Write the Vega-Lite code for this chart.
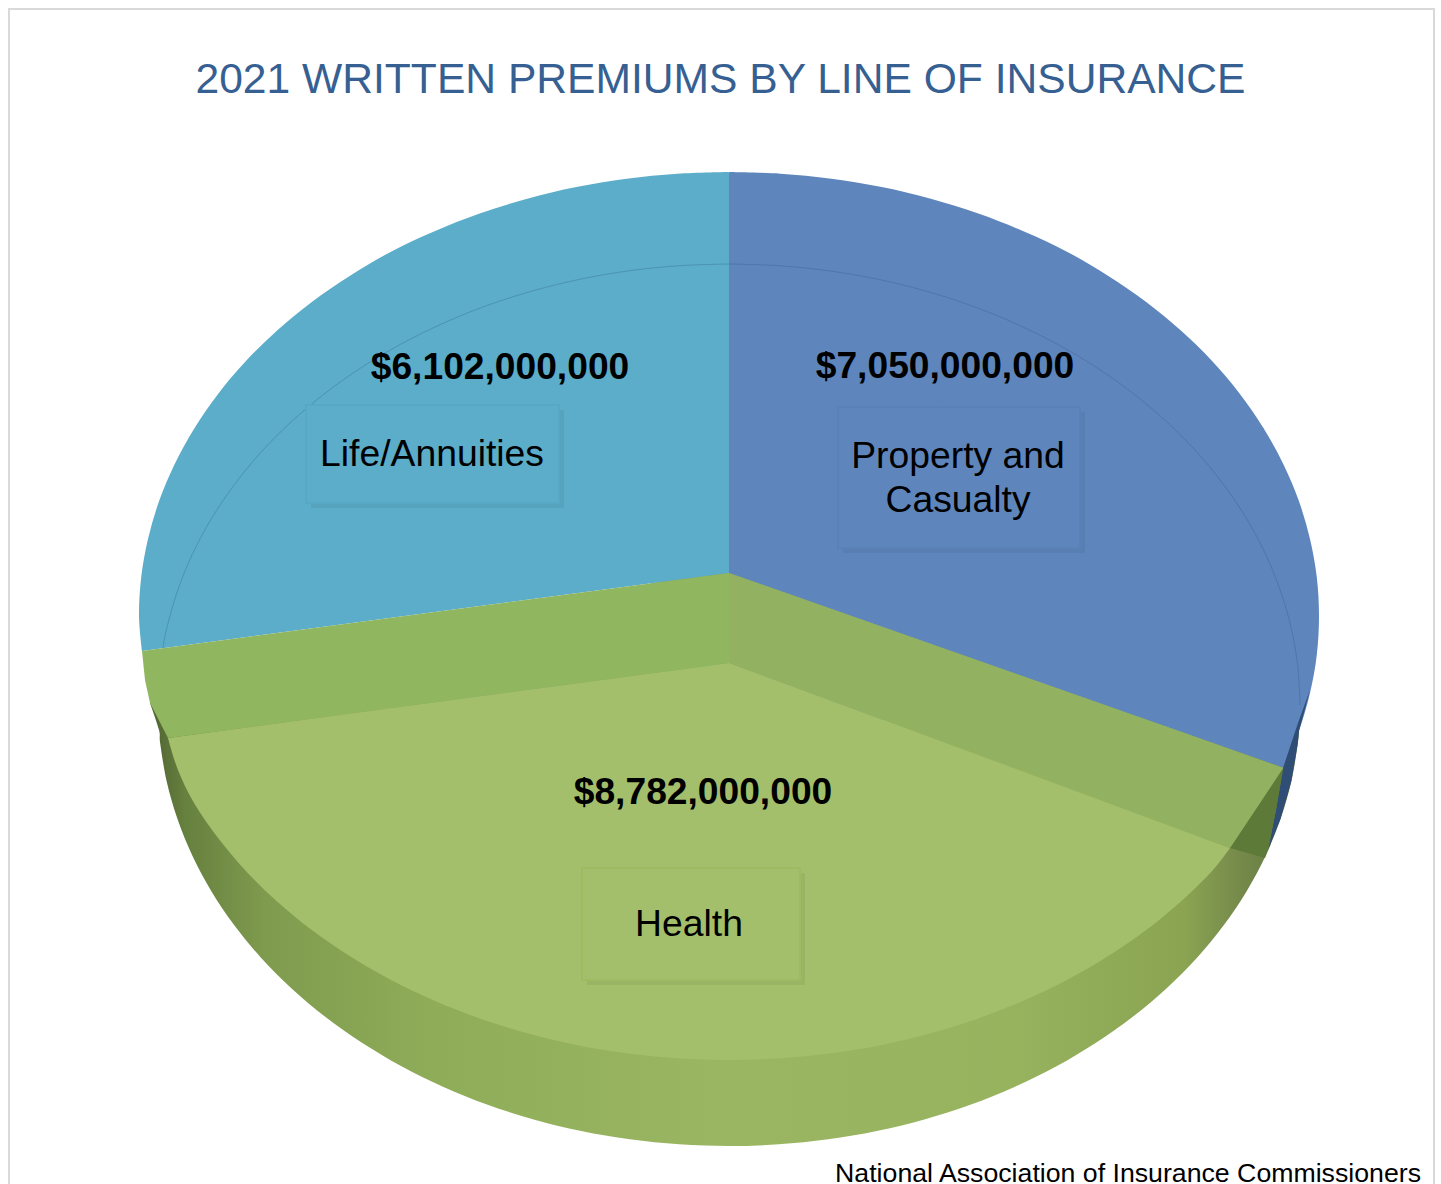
{
  "$schema": "https://vega.github.io/schema/vega-lite/v6.json",
  "width": 1441,
  "height": 1184,
  "padding": 0,
  "autosize": {"type": "none"},
  "background": "white",
  "config": {"view": {"stroke": null}},
  "title": {
    "text": "2021 WRITTEN PREMIUMS BY LINE OF INSURANCE",
    "anchor": "middle",
    "frame": "group",
    "offset": 0,
    "dy": 136,
    "baseline": "alphabetic",
    "font": "Liberation Sans",
    "fontSize": 42.6,
    "fontWeight": "normal",
    "color": "#376092"
  },
  "datasets": {
    "lines": [
      {"line": "Property and\nCasualty", "premium": 7050000000, "valueX": 945, "valueY": 378, "nameX": 958, "nameY": 468, "x0": 838, "x1": 1080, "y0": 407, "y1": 548},
      {"line": "Life/Annuities", "premium": 6102000000, "valueX": 500, "valueY": 379, "nameX": 432, "nameY": 466, "x0": 306, "x1": 559, "y0": 405, "y1": 503},
      {"line": "Health", "premium": 8782000000, "valueX": 703, "valueY": 804, "nameX": 689, "nameY": 936, "x0": 582, "x1": 800, "y0": 868, "y1": 980}
    ],
    "rim": [
      {"x": 150, "y": 703}, {"x": 159, "y": 730}, {"x": 160.2, "y": 743.4}, {"x": 166.7, "y": 781.6}, {"x": 177.5, "y": 819.1}, {"x": 192.4, "y": 855.8}, {"x": 211.5, "y": 891.4}, {"x": 234.5, "y": 925.5}, {"x": 261.2, "y": 958}, {"x": 291.6, "y": 988.5}, {"x": 325.2, "y": 1016.8}, {"x": 362, "y": 1042.8}, {"x": 401.5, "y": 1066.3}, {"x": 443.5, "y": 1086.9}, {"x": 487.7, "y": 1104.7}, {"x": 533.7, "y": 1119.4}, {"x": 581.2, "y": 1131}, {"x": 629.9, "y": 1139.3}, {"x": 679.2, "y": 1144.3}, {"x": 729, "y": 1146},
      {"x": 778.8, "y": 1144.3}, {"x": 828.1, "y": 1139.3}, {"x": 876.8, "y": 1131}, {"x": 924.3, "y": 1119.4}, {"x": 970.3, "y": 1104.7}, {"x": 1014.5, "y": 1086.9}, {"x": 1056.5, "y": 1066.3}, {"x": 1096, "y": 1042.8}, {"x": 1132.8, "y": 1016.8}, {"x": 1166.4, "y": 988.5}, {"x": 1196.8, "y": 958}, {"x": 1223.5, "y": 925.5}, {"x": 1246.5, "y": 891.4}, {"x": 1265.6, "y": 855.8}, {"x": 1280.5, "y": 819.1}, {"x": 1291.3, "y": 781.6}, {"x": 1297.8, "y": 743.4}, {"x": 1299, "y": 730}
    ],
    "wallBacking": [
      {"x": 150, "y": 703}, {"x": 729, "y": 565}, {"x": 1299, "y": 730}
    ],
    "propertyCore": [
      {"x": 729, "y": 573}, {"x": 729, "y": 172}, {"x": 1263.7, "y": 428.4}, {"x": 1283.4, "y": 767.8}
    ],
    "propertyArc": [
      {"x": 729, "y": 172}, {"x": 780.4, "y": 173.7}, {"x": 831.4, "y": 178.7}, {"x": 881.7, "y": 187.1}, {"x": 930.8, "y": 198.8}, {"x": 978.3, "y": 213.6}, {"x": 1024, "y": 231.5}, {"x": 1067.4, "y": 251.9}, {"x": 1108.3, "y": 275.9}, {"x": 1146.2, "y": 302}, {"x": 1180.9, "y": 330.6}, {"x": 1212.3, "y": 361.3}, {"x": 1239.9, "y": 394}, {"x": 1263.7, "y": 428.4}, {"x": 1283.4, "y": 464.2}, {"x": 1298.9, "y": 501.1}, {"x": 1310, "y": 538.9}, {"x": 1316.8, "y": 577.3}, {"x": 1319, "y": 616}, {"x": 1316.8, "y": 654.7}, {"x": 1310, "y": 693.1}, {"x": 1298.9, "y": 730.9}, {"x": 1283.4, "y": 767.8}
    ],
    "lifeCore": [
      {"x": 729, "y": 573}, {"x": 142, "y": 651}, {"x": 218.1, "y": 394}, {"x": 729, "y": 172}
    ],
    "lifeArc": [
      {"x": 142, "y": 651}, {"x": 139, "y": 616}, {"x": 141.2, "y": 577.3}, {"x": 148, "y": 538.9}, {"x": 159.1, "y": 501.1}, {"x": 174.6, "y": 464.2}, {"x": 194.3, "y": 428.4}, {"x": 218.1, "y": 394}, {"x": 245.7, "y": 361.3}, {"x": 277.1, "y": 330.6}, {"x": 311.8, "y": 302}, {"x": 349.7, "y": 275.9}, {"x": 390.6, "y": 251.9}, {"x": 434, "y": 231.5}, {"x": 479.7, "y": 213.6}, {"x": 527.2, "y": 198.8}, {"x": 576.3, "y": 187.1}, {"x": 626.6, "y": 178.7}, {"x": 677.6, "y": 173.7}, {"x": 729, "y": 172}
    ],
    "rimShadeNavy": [
      {"x": 1310, "y": 690}, {"x": 1299, "y": 731}, {"x": 1297.8, "y": 743.4}, {"x": 1291.3, "y": 781.6}, {"x": 1280.5, "y": 819.1}, {"x": 1268, "y": 850}, {"x": 1276, "y": 810}, {"x": 1283, "y": 768}, {"x": 1298, "y": 723}
    ],
    "rimShadeGreen": [
      {"x": 1283.4, "y": 767.8}, {"x": 1230, "y": 848}, {"x": 1265, "y": 858}, {"x": 1268, "y": 850}, {"x": 1276, "y": 810}
    ],
    "wallLeft": [
      {"x": 729, "y": 573}, {"x": 142, "y": 651}, {"x": 145, "y": 680}, {"x": 150, "y": 703}, {"x": 168, "y": 738}, {"x": 729, "y": 663}
    ],
    "wallRight": [
      {"x": 729, "y": 573}, {"x": 1283.4, "y": 767.8}, {"x": 1230, "y": 848}, {"x": 729, "y": 663}
    ],
    "healthCore": [
      {"x": 729, "y": 663}, {"x": 1230, "y": 848}, {"x": 729, "y": 1060}, {"x": 168, "y": 738}
    ],
    "healthArc": [
      {"x": 1230, "y": 848}, {"x": 1212.3, "y": 870.7}, {"x": 1180.9, "y": 901.4}, {"x": 1146.2, "y": 930}, {"x": 1108.3, "y": 956.1}, {"x": 1067.4, "y": 979.7}, {"x": 1024, "y": 1000.5}, {"x": 978.3, "y": 1018.4}, {"x": 930.8, "y": 1033.2}, {"x": 881.7, "y": 1044.9}, {"x": 831.4, "y": 1053.3}, {"x": 780.4, "y": 1058.3}, {"x": 729, "y": 1060}, {"x": 677.6, "y": 1058.3}, {"x": 626.6, "y": 1053.3}, {"x": 576.3, "y": 1044.9}, {"x": 527.2, "y": 1033.2}, {"x": 479.7, "y": 1018.4}, {"x": 434, "y": 1000.5}, {"x": 390.6, "y": 979.7}, {"x": 349.7, "y": 956.1}, {"x": 311.8, "y": 930}, {"x": 277.1, "y": 901.4}, {"x": 245.7, "y": 870.7}, {"x": 218.1, "y": 838}, {"x": 194.3, "y": 803.6}, {"x": 178, "y": 770}, {"x": 168, "y": 738}
    ],
    "baseRingLife": [
      {"x": 163, "y": 648}, {"x": 166.7, "y": 628.4}, {"x": 177.5, "y": 591}, {"x": 192.4, "y": 554.2}, {"x": 211.5, "y": 518.6}, {"x": 234.5, "y": 484.5}, {"x": 261.2, "y": 452}, {"x": 291.6, "y": 421.5}, {"x": 325.2, "y": 393.2}, {"x": 362, "y": 367.1}, {"x": 401.5, "y": 343.7}, {"x": 443.5, "y": 323.1}, {"x": 487.7, "y": 305.3}, {"x": 533.7, "y": 290.6}, {"x": 581.2, "y": 279}, {"x": 629.9, "y": 270.7}, {"x": 679.2, "y": 265.7}, {"x": 729, "y": 264}
    ],
    "baseRingProperty": [
      {"x": 729, "y": 264}, {"x": 778.8, "y": 265.7}, {"x": 828.1, "y": 270.7}, {"x": 876.8, "y": 279}, {"x": 924.3, "y": 290.6}, {"x": 970.3, "y": 305.3}, {"x": 1014.5, "y": 323.1}, {"x": 1056.5, "y": 343.7}, {"x": 1096, "y": 367.1}, {"x": 1132.8, "y": 393.2}, {"x": 1166.4, "y": 421.5}, {"x": 1196.8, "y": 452}, {"x": 1223.5, "y": 484.5}, {"x": 1246.5, "y": 518.6}, {"x": 1265.6, "y": 554.2}, {"x": 1280.5, "y": 591}, {"x": 1291.3, "y": 628.4}, {"x": 1297.8, "y": 666.6}, {"x": 1300, "y": 705}
    ],
    "frame": [
      {"x0": 9, "x1": 1434, "y0": 9, "y1": 1200}
    ],
    "source": [
      {"name": "National Association of Insurance Commissioners", "x": 1421, "y": 1182}
    ]
  },
  "encoding": {
    "x": {"field": "x", "type": "quantitative", "scale": {"domain": [0, 1441], "nice": false, "zero": false}, "axis": null},
    "y": {"field": "y", "type": "quantitative", "scale": {"domain": [0, 1184], "reverse": true, "nice": false, "zero": false}, "axis": null}
  },
  "layer": [
    {
      "data": {"name": "frame"},
      "mark": {"type": "rect", "fill": "white", "stroke": "#d9d9d9", "strokeWidth": 2, "clip": true},
      "encoding": {
        "x": {"field": "x0", "type": "quantitative", "scale": {"domain": [0, 1441], "nice": false, "zero": false}, "axis": null},
        "x2": {"field": "x1"},
        "y": {"field": "y0", "type": "quantitative", "scale": {"domain": [0, 1184], "reverse": true, "nice": false, "zero": false}, "axis": null},
        "y2": {"field": "y1"}
      }
    },
    {
      "data": {"name": "rim"},
      "mark": {
        "type": "line", "order": false, "interpolate": "cardinal", "strokeWidth": 0,
        "fill": {"gradient": "linear", "x1": 0, "y1": 0, "x2": 1, "y2": 0, "stops": [
          {"offset": 0, "color": "#4f6332"},
          {"offset": 0.03, "color": "#66803e"},
          {"offset": 0.1, "color": "#7f9b4e"},
          {"offset": 0.25, "color": "#8fad59"},
          {"offset": 0.5, "color": "#9ab663"},
          {"offset": 0.75, "color": "#97b35e"},
          {"offset": 0.9, "color": "#8aa452"},
          {"offset": 0.95, "color": "#75894a"},
          {"offset": 1, "color": "#5f7640"}
        ]}
      }
    },
    {"data": {"name": "wallBacking"}, "mark": {"type": "line", "order": false, "fill": "#7f9f6f", "strokeWidth": 0}},
    {"data": {"name": "propertyCore"}, "mark": {"type": "line", "order": false, "fill": "#5e86bd", "strokeWidth": 0}},
    {"data": {"name": "propertyArc"}, "mark": {"type": "line", "order": false, "interpolate": "cardinal", "fill": "#5e86bd", "strokeWidth": 0}},
    {"data": {"name": "lifeCore"}, "mark": {"type": "line", "order": false, "fill": "#5badc9", "strokeWidth": 0}},
    {"data": {"name": "lifeArc"}, "mark": {"type": "line", "order": false, "interpolate": "cardinal", "fill": "#5badc9", "strokeWidth": 0}},
    {"data": {"name": "baseRingLife"}, "mark": {"type": "line", "order": false, "interpolate": "cardinal", "stroke": "#4b93b3", "strokeWidth": 1}},
    {"data": {"name": "baseRingProperty"}, "mark": {"type": "line", "order": false, "interpolate": "cardinal", "stroke": "#5076aa", "strokeWidth": 1}},
    {"data": {"name": "rimShadeNavy"}, "mark": {"type": "line", "order": false, "fill": "#2f4d75", "strokeWidth": 0}},
    {"data": {"name": "rimShadeGreen"}, "mark": {"type": "line", "order": false, "fill": "#5e7a39", "strokeWidth": 0}},
    {"data": {"name": "wallLeft"}, "mark": {"type": "line", "order": false, "fill": "#90b65f", "strokeWidth": 0}},
    {"data": {"name": "wallRight"}, "mark": {"type": "line", "order": false, "fill": "#93b261", "strokeWidth": 0}},
    {"data": {"name": "healthCore"}, "mark": {"type": "line", "order": false, "fill": "#a3bf6b", "strokeWidth": 0}},
    {"data": {"name": "healthArc"}, "mark": {"type": "line", "order": false, "interpolate": "cardinal", "fill": "#a3bf6b", "strokeWidth": 0}},
    {
      "data": {"name": "lines"},
      "transform": [
        {"calculate": "datum.x0 + 5", "as": "shadowX0"},
        {"calculate": "datum.x1 + 5", "as": "shadowX1"},
        {"calculate": "datum.y0 + 5", "as": "shadowY0"},
        {"calculate": "datum.y1 + 5", "as": "shadowY1"}
      ],
      "mark": {"type": "rect", "fill": "#000000", "fillOpacity": 0.055},
      "encoding": {
        "x": {"field": "shadowX0", "type": "quantitative", "scale": {"domain": [0, 1441], "nice": false, "zero": false}, "axis": null},
        "x2": {"field": "shadowX1"},
        "y": {"field": "shadowY0", "type": "quantitative", "scale": {"domain": [0, 1184], "reverse": true, "nice": false, "zero": false}, "axis": null},
        "y2": {"field": "shadowY1"}
      }
    },
    {
      "data": {"name": "lines"},
      "mark": {"type": "rect", "strokeWidth": 2},
      "encoding": {
        "x": {"field": "x0", "type": "quantitative", "scale": {"domain": [0, 1441], "nice": false, "zero": false}, "axis": null},
        "x2": {"field": "x1"},
        "y": {"field": "y0", "type": "quantitative", "scale": {"domain": [0, 1184], "reverse": true, "nice": false, "zero": false}, "axis": null},
        "y2": {"field": "y1"},
        "fill": {"field": "line", "type": "nominal", "legend": null, "scale": {"domain": ["Property and\nCasualty", "Life/Annuities", "Health"], "range": ["#5e86bd", "#5badc9", "#a3bf6b"]}},
        "stroke": {"field": "line", "type": "nominal", "legend": null, "scale": {"domain": ["Property and\nCasualty", "Life/Annuities", "Health"], "range": ["#5a82b8", "#57a8c4", "#9dbc62"]}}
      }
    },
    {
      "data": {"name": "lines"},
      "mark": {"type": "text", "font": "Liberation Sans", "fontSize": 37.2, "fontWeight": "bold", "color": "#000000", "baseline": "alphabetic", "align": "center"},
      "encoding": {
        "x": {"field": "valueX", "type": "quantitative", "scale": {"domain": [0, 1441], "nice": false, "zero": false}, "axis": null},
        "y": {"field": "valueY", "type": "quantitative", "scale": {"domain": [0, 1184], "reverse": true, "nice": false, "zero": false}, "axis": null},
        "text": {"field": "premium", "type": "quantitative", "format": "$,.0f"}
      }
    },
    {
      "data": {"name": "lines"},
      "mark": {"type": "text", "font": "Liberation Sans", "fontSize": 37.3, "color": "#000000", "baseline": "alphabetic", "align": "center", "lineBreak": "\n", "lineHeight": 44},
      "encoding": {
        "x": {"field": "nameX", "type": "quantitative", "scale": {"domain": [0, 1441], "nice": false, "zero": false}, "axis": null},
        "y": {"field": "nameY", "type": "quantitative", "scale": {"domain": [0, 1184], "reverse": true, "nice": false, "zero": false}, "axis": null},
        "text": {"field": "line", "type": "nominal"}
      }
    },
    {
      "data": {"name": "source"},
      "mark": {"type": "text", "font": "Liberation Sans", "fontSize": 26.7, "color": "#000000", "baseline": "alphabetic", "align": "right"},
      "encoding": {
        "text": {"field": "name", "type": "nominal"}
      }
    }
  ]
}
